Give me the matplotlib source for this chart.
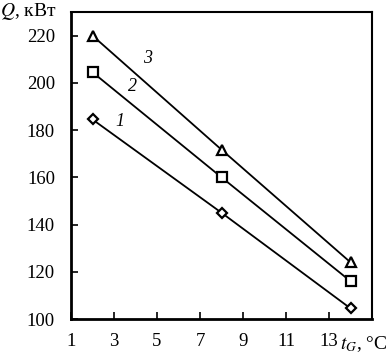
import matplotlib
matplotlib.use("Agg")
import matplotlib.pyplot as plt

x = [2, 8, 14]
s1 = [184.5, 145, 104.5]
s2 = [204.5, 160, 116]
s3 = [220, 171.7, 124]
series = [(s1, "D", 5.5, "1", (3.25, 183.5)),
          (s2, "s", 7, "2", (3.85, 198.5)),
          (s3, "^", 7, "3", (4.55, 210.5))]
xticks = [1, 3, 5, 7, 9, 11, 13]
yticks = [100, 120, 140, 160, 180, 200, 220]

plt.rcParams['font.family'] = ['Liberation Serif', 'DejaVu Serif']
plt.rcParams['mathtext.fontset'] = 'stix'

fig = plt.figure(figsize=(3.91, 3.54), dpi=100)
ax = fig.add_axes([71/391, 1-319/354, (372-71)/391, (319-12)/354])

for ys, m, ms, lab, pos in series:
    ax.plot(x, ys, color='black', lw=1.3, marker=m, ms=ms,
            mfc='white', mec='black', mew=1.6)
    ax.text(pos[0], pos[1], lab, fontsize=13, style='italic',
            ha='center', va='center')

ax.set_xlim(1, 15)
ax.set_ylim(100, 230)
ax.set_xticks(xticks)
ax.set_yticks(yticks)
ax.tick_params(direction='in', length=5, width=1.2, labelsize=13.5)
ax.tick_params(axis='x', pad=10)
ax.tick_params(axis='y', pad=11.5)
for sp in ax.spines.values():
    sp.set_linewidth(1.5)
ax.spines['left'].set_linewidth(2)
ax.spines['bottom'].set_linewidth(2)

fig.text(0.0, 1-12/354, r"$Q$, кВт", fontsize=14, ha='left', va='center')
fig.text(340/391, 1-344/354, r"$t_G$, °C", fontsize=14, ha='left', va='center')

fig.savefig("out.png", dpi=100)
